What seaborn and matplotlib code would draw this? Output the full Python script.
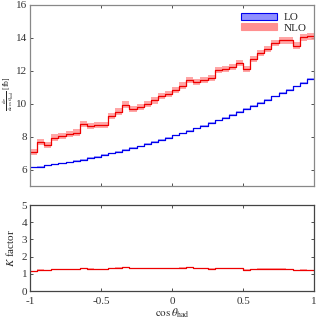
import numpy as np
import pandas as pd
import matplotlib
matplotlib.use('Agg')
import matplotlib.pyplot as plt
import seaborn as sns
from matplotlib.patches import Patch

# bin edges in cos(theta), 40 bins of width 0.05
edges = np.linspace(-1, 1, 41)

# LO distribution [fb] per bin
lo = [6.13, 6.18, 6.25, 6.31, 6.38, 6.45, 6.53, 6.61, 6.70, 6.79,
      6.89, 6.99, 7.09, 7.20, 7.31, 7.42, 7.55, 7.67, 7.80, 7.93,
      8.07, 8.21, 8.36, 8.51, 8.66, 8.82, 8.98, 9.15, 9.32, 9.50,
      9.68, 9.86, 10.05, 10.24, 10.44, 10.64, 10.85, 11.06, 11.27, 11.49]

# NLO distribution [fb] per bin
nlo = [7.07, 7.69, 7.47, 7.94, 8.04, 8.14, 8.25, 8.77, 8.65, 8.70,
       8.72, 9.25, 9.52, 9.95, 9.69, 9.79, 9.99, 10.20, 10.47, 10.60,
       10.82, 11.10, 11.46, 11.30, 11.46, 11.54, 12.06, 12.12, 12.22, 12.46,
       12.12, 12.70, 13.07, 13.33, 13.68, 13.84, 13.84, 13.53, 14.02, 14.08]

# scale uncertainty half-widths
lo_err = 0.04
nlo_err = 0.19

lo = np.array(lo)
nlo = np.array(nlo)
kfac = nlo / lo
kfac_err = nlo_err / lo

def stepify(v):
    return np.append(v, v[-1])

df = pd.DataFrame({'x': edges, 'lo': stepify(lo), 'nlo': stepify(nlo), 'k': stepify(kfac)})

sns.set_style('ticks')
plt.rcParams['font.family'] = ['Liberation Serif', 'DejaVu Serif']
plt.rcParams['mathtext.fontset'] = 'stix'

blue = '#0000ee'
blue_band = '#9090ff'
red = '#ee0000'
red_band = '#ff9090'

fig = plt.figure(figsize=(3.16, 3.23), dpi=100)
ax1 = fig.add_axes([0.095, 0.424, 0.899, 0.561])
ax2 = fig.add_axes([0.095, 0.099, 0.899, 0.266])

# top panel
ax1.fill_between(edges, stepify(lo - lo_err), stepify(lo + lo_err), step='post',
                 color=blue_band, alpha=0.8, lw=0)
ax1.fill_between(edges, stepify(nlo - nlo_err), stepify(nlo + nlo_err), step='post',
                 color=red_band, alpha=0.8, lw=0)
sns.lineplot(data=df, x='x', y='lo', ax=ax1, drawstyle='steps-post', color=blue, lw=0.9)
sns.lineplot(data=df, x='x', y='nlo', ax=ax1, drawstyle='steps-post', color=red, lw=0.9)

ax1.set_xlim(-1, 1)
ax1.set_ylim(5, 16)
ax1.set_yticks([6, 8, 10, 12, 14, 16])
ax1.set_xticks([-1, -0.5, 0, 0.5, 1])
ax1.set_xticklabels([])
ax1.set_xlabel('')
ax1.set_ylabel('')
fig.text(0.001, 0.71, r'$\frac{\mathrm{d}\sigma}{\mathrm{d}\cos\theta_{\rm had}}$ [fb]',
         fontsize=5.5, rotation=90, ha='left', va='center')

handles = [Patch(facecolor=blue_band, edgecolor=blue, lw=0.8),
           Patch(facecolor=red_band, edgecolor=red_band, lw=0.8)]
ax1.legend(handles, ['LO', 'NLO'], loc='upper right', frameon=False, fontsize=8,
           handlelength=3.2, handleheight=0.6, labelspacing=0.1, borderaxespad=0.3,
           handletextpad=0.6)

# bottom panel
ax2.fill_between(edges, stepify(kfac - kfac_err), stepify(kfac + kfac_err), step='post',
                 color=red_band, alpha=0.8, lw=0)
sns.lineplot(data=df, x='x', y='k', ax=ax2, drawstyle='steps-post', color=red, lw=0.9)
ax2.set_xlim(-1, 1)
ax2.set_ylim(0, 5)
ax2.set_yticks([0, 1, 2, 3, 4, 5])
ax2.set_xticks([-1, -0.5, 0, 0.5, 1])
ax2.set_xticklabels(['-1', '-0.5', '0', '0.5', '1'])
ax2.set_ylabel(r'$K$ factor', fontsize=8, labelpad=4)
ax2.set_xlabel(r'$\cos\theta_{\rm had}$', fontsize=8, labelpad=1)

for ax, sc in ((ax1, '#888888'), (ax2, '#444444')):
    ax.tick_params(direction='in', top=True, right=True, labelsize=8,
                   length=2.5, width=0.6, colors='#333333')
    ax.tick_params(axis='y', pad=2)
    ax.tick_params(axis='x', pad=4)
    for s in ax.spines.values():
        s.set_color(sc)
        s.set_linewidth(0.9)

fig.savefig('out.png', dpi=100)
